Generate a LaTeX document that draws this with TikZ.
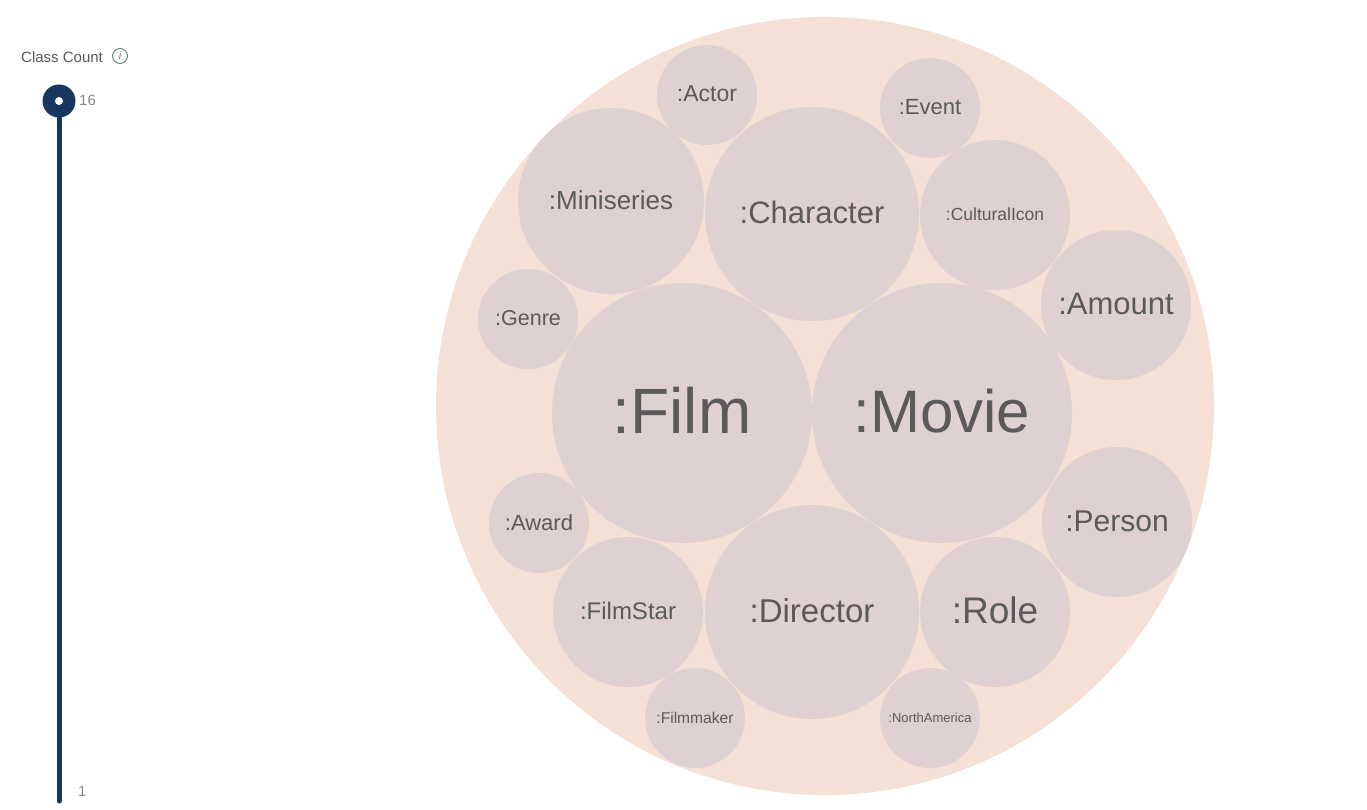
\documentclass[tikz,border=0pt]{standalone}
\usepackage{fontspec}
\setmainfont{Liberation Sans}
\definecolor{outerc}{HTML}{F5E0D5}
\definecolor{innerc}{HTML}{DFD1D2}
\definecolor{txtc}{HTML}{5B5959}
\definecolor{navy}{HTML}{17375E}
\definecolor{labc}{HTML}{888888}
\definecolor{infoc}{HTML}{5F7F6E}
\newcommand\liftlbl[1]{\raisebox{0.08em}{#1}}
\tikzset{
  bub/.style={circle, fill=innerc, draw=none, inner sep=0pt, minimum size=#1, text=txtc},
  fs/.style={font=\fontsize{#1}{#1}\selectfont},
}
\begin{document}
\begin{tikzpicture}[x=1pt,y=-1pt]
\useasboundingbox[fill=white] (0,0) rectangle (1367,809);
% slider
\node[anchor=west, text=txtc, fs=15, inner sep=0pt] (title) at (21,57) {Class Count};
\node[circle, draw=infoc, line width=0.9pt, minimum size=15pt, inner sep=0pt, text=infoc, fs=11] (info) at (120,56) {\itshape i};
\coordinate (top) at (59,101);
\coordinate (bot) at (59,801);
\draw[navy, line width=5pt, line cap=round] (top) -- (bot);
\node[circle, fill=navy, minimum size=33pt, inner sep=0pt] (knob) at (top) {};
\node[circle, fill=white, minimum size=8pt, inner sep=0pt] (knobdot) at (top) {};
\node[anchor=west, text=labc, fs=15, inner sep=0pt] (max) at (79,100) {16};
\node[anchor=west, text=labc, fs=15, inner sep=0pt] (min) at (78,791) {1};
% outer
\node[circle, fill=outerc, minimum size=778pt, inner sep=0pt] (outer) at (825,406) {};
% bubbles
\node[bub=260pt, fs=64] (film) at (682,413) {\liftlbl{:Film}};
\node[bub=260pt, fs=60] (movie) at (942,413) {\liftlbl{:Movie}};
\node[bub=214pt, fs=31] (character) at (812,214) {\liftlbl{:Character}};
\node[bub=214pt, fs=33] (director) at (812,612) {\liftlbl{:Director}};
\node[bub=186pt, fs=26] (miniseries) at (611,201) {\liftlbl{:Miniseries}};
\node[bub=150pt, fs=24] (filmstar) at (628,612) {\liftlbl{:FilmStar}};
\node[bub=150pt, fs=37] (role) at (995,612) {\liftlbl{:Role}};
\node[bub=150pt, fs=17.5] (cultural) at (995,215) {\liftlbl{:CulturalIcon}};
\node[bub=150pt, fs=31] (amount) at (1116,305) {\liftlbl{:Amount}};
\node[bub=150pt, fs=30] (person) at (1117,522) {\liftlbl{:Person}};
\node[bub=100pt, fs=23] (actor) at (707,95) {\liftlbl{:Actor}};
\node[bub=100pt, fs=22] (event) at (930,108) {\liftlbl{:Event}};
\node[bub=100pt, fs=21.5] (genre) at (528,319) {\liftlbl{:Genre}};
\node[bub=100pt, fs=22] (award) at (539,523) {\liftlbl{:Award}};
\node[bub=100pt, fs=15.6] (filmmaker) at (695,718) {\liftlbl{:Filmmaker}};
\node[bub=100pt, fs=13] (northamerica) at (930,718) {\liftlbl{:NorthAmerica}};
\end{tikzpicture}
\end{document}
